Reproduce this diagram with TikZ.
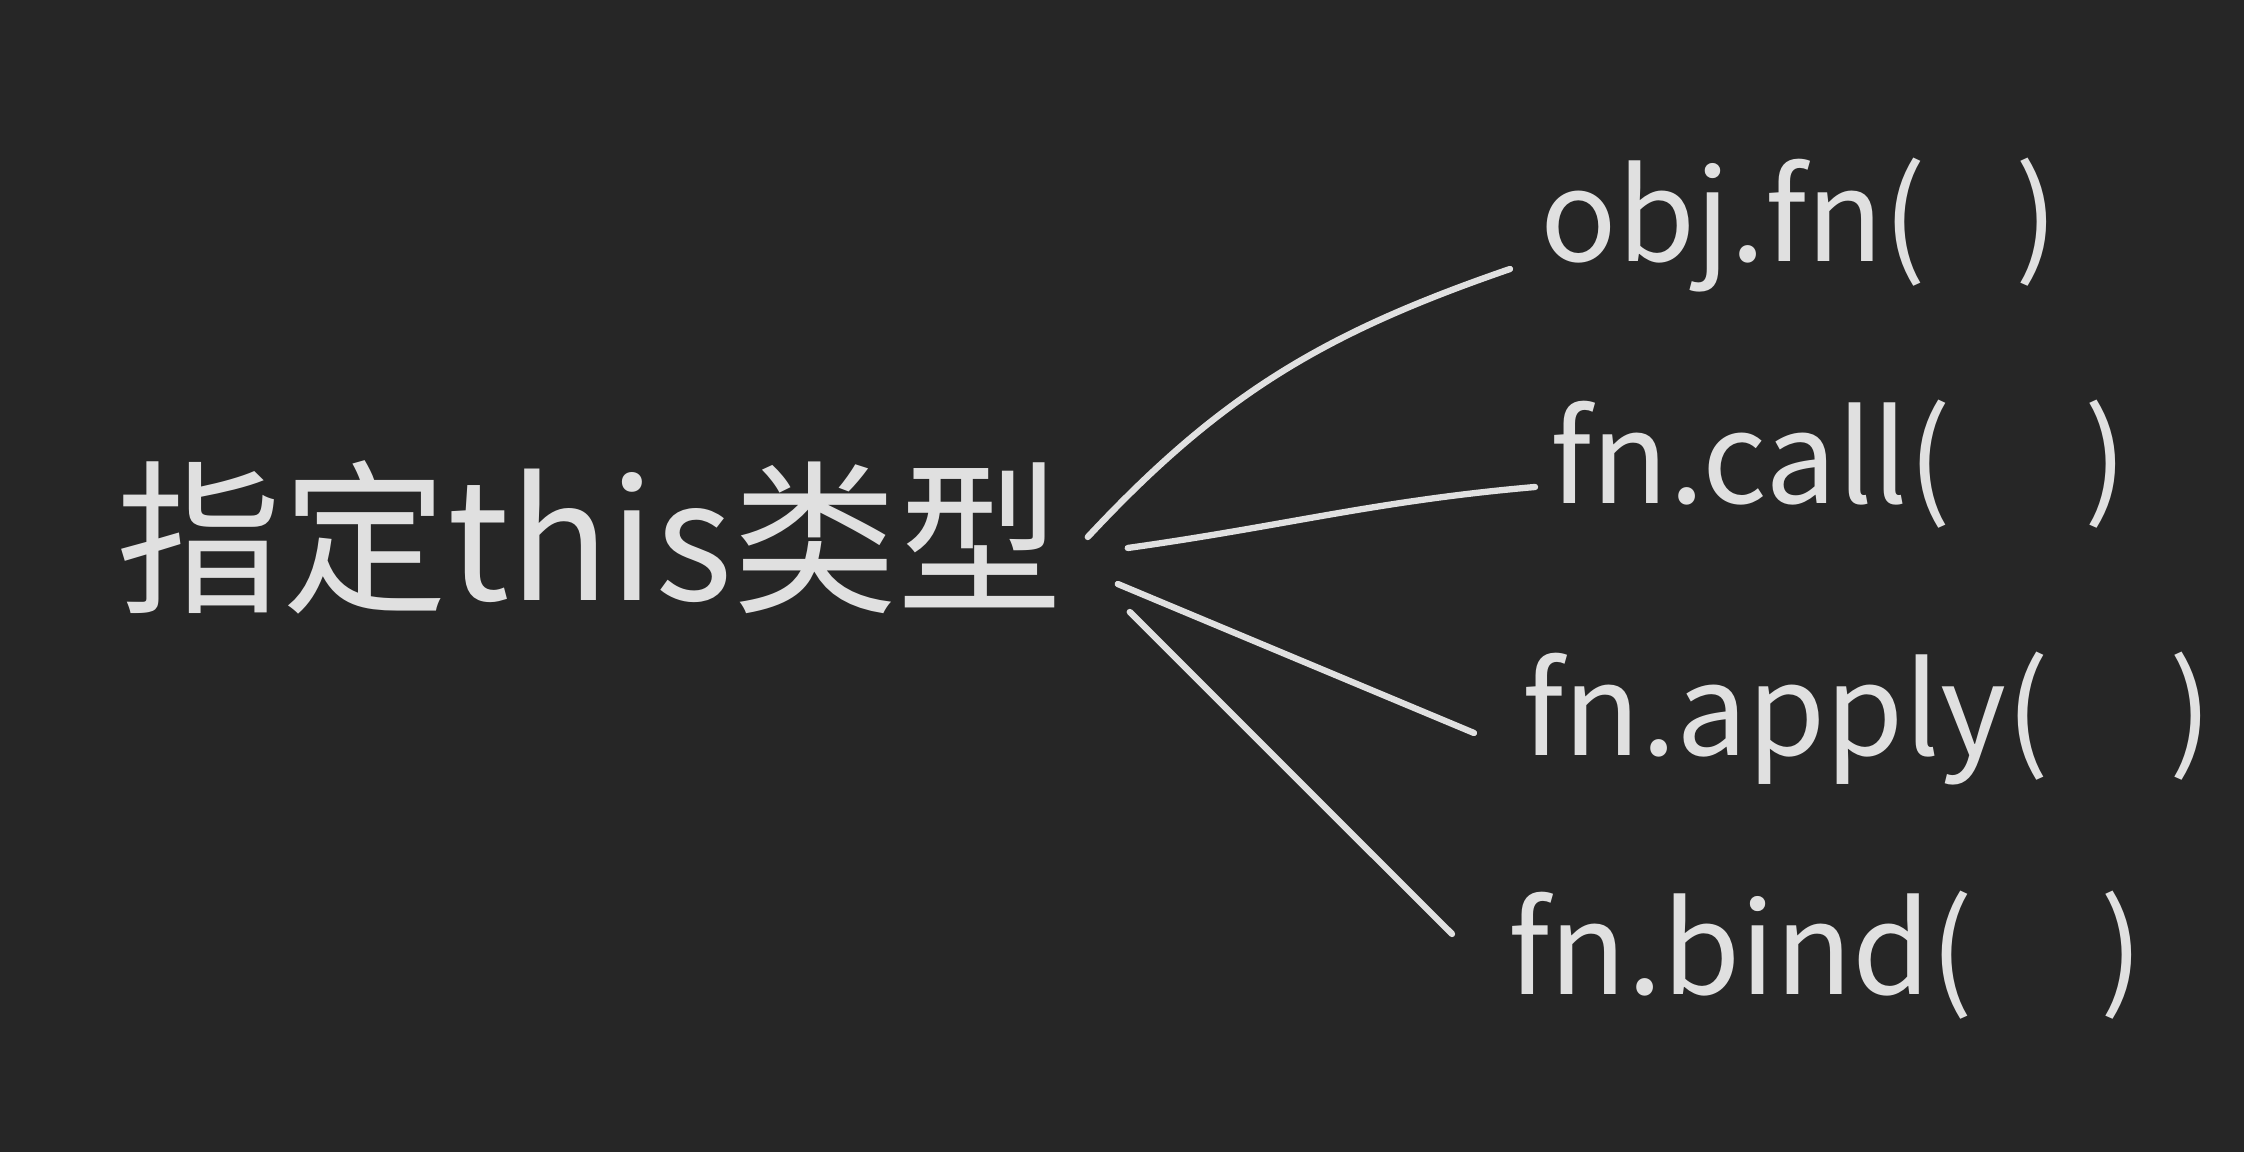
\documentclass[tikz,border=0pt]{standalone}
\usepackage{fontspec}
\setmainfont{Noto Sans CJK SC}
\usetikzlibrary{positioning}
\definecolor{boardbg}{HTML}{262626}
\definecolor{chalk}{HTML}{E0E0E0}

\begin{document}
\begin{tikzpicture}[
    x=1cm, y=1cm,
    every node/.style={text=chalk},
    topic/.style={font=\fontsize{47}{52}\selectfont, inner sep=4pt},
    callnode/.style={font=\fontsize{36}{42}\selectfont, inner sep=0pt, anchor=base west},
    stroke/.style={draw=chalk, line width=1.8pt, line cap=round},
    ]
\fill[boardbg] (0,0) rectangle (22.44,11.52);
\useasboundingbox (0,0) rectangle (22.44,11.52);

\node[topic] (topic) at (5.90,6.15) {指定this类型};

\node[callnode] (objfn) at (15.40,8.90) {obj.fn(\hspace{0.7em})};
\node[callnode] (fncall) at (15.50,6.48) {fn.call(\hspace{1.05em})};
\node[callnode] (fnapply) at (15.22,3.96) {fn.apply(\hspace{0.95em})};
\node[callnode] (fnbind) at (15.08,1.57) {fn.bind(\hspace{1.0em})};

% lines from the topic to each way of calling
\draw[stroke] ([xshift=0.1cm]topic.east) to[out=47, in=199] ([xshift=-0.30cm, yshift=-0.07cm]objfn.base west);
\draw[stroke] ([xshift=0.5cm, yshift=-0.11cm]topic.east) to[out=8, in=185] ([xshift=-0.15cm, yshift=0.17cm]fncall.base west);
\draw[stroke] ([xshift=0.4cm, yshift=-0.47cm]topic.east) -- ([xshift=-0.48cm, yshift=0.23cm]fnapply.base west);
\draw[stroke] ([xshift=0.52cm, yshift=-0.75cm]topic.east) -- ([xshift=-0.56cm, yshift=0.61cm]fnbind.base west);

\end{tikzpicture}
\end{document}
